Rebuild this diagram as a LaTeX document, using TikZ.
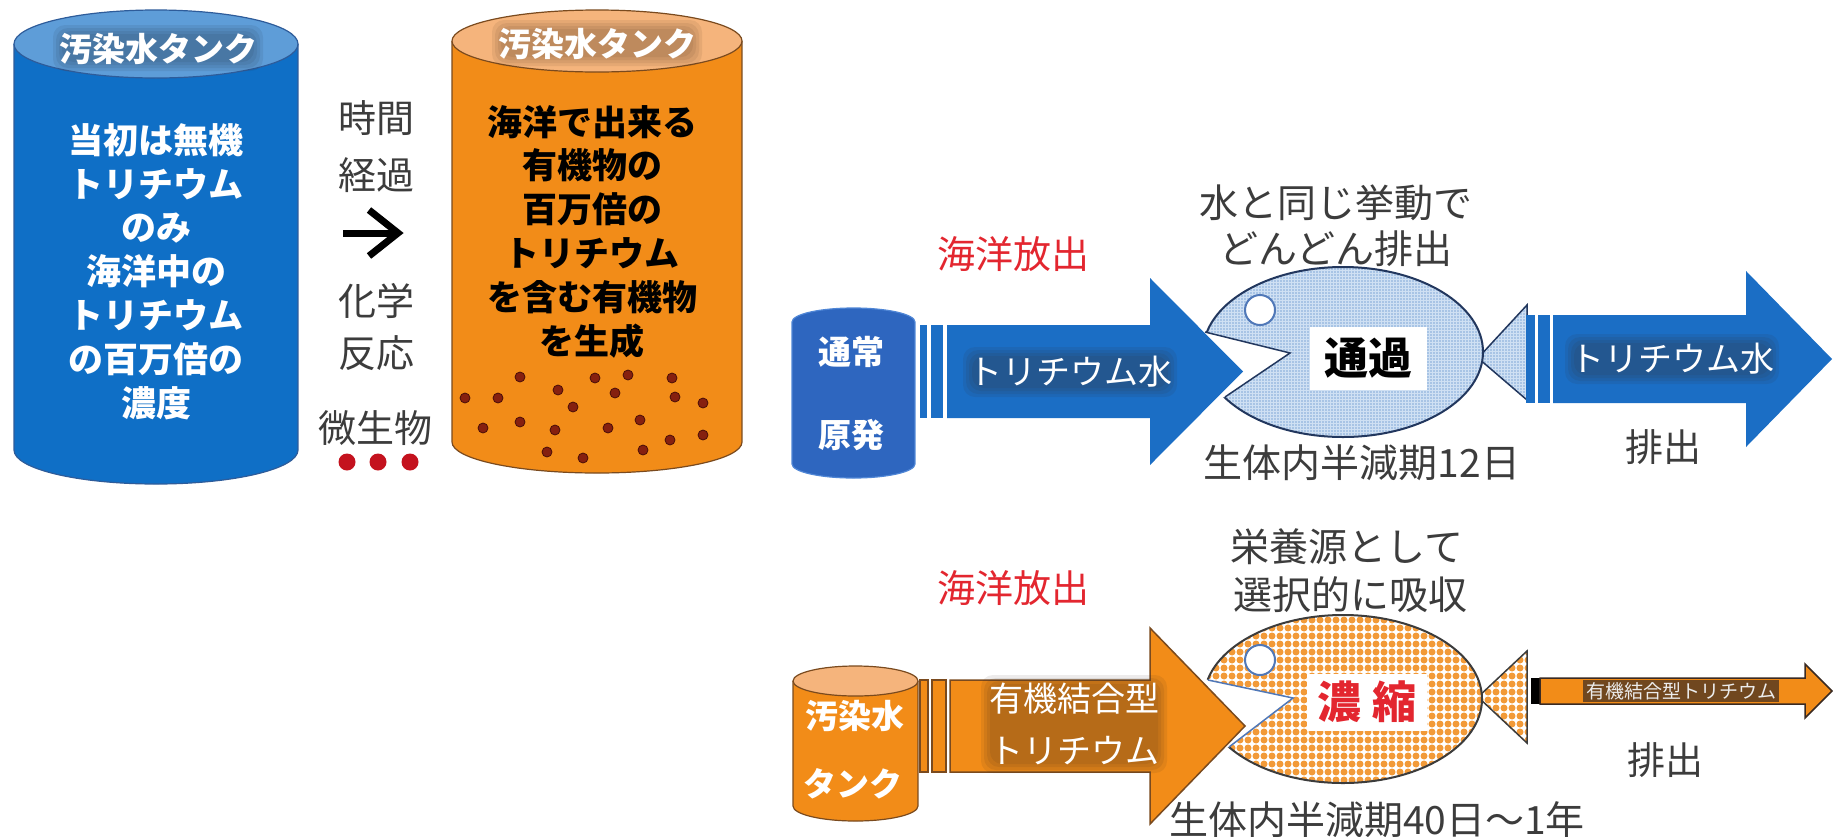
\documentclass[tikz,border=0pt]{standalone}
\usepackage{fontspec}
\newfontfamily\jp{Noto Sans CJK JP}
\usetikzlibrary{patterns.meta}

\definecolor{tankblue}{HTML}{0F6FC6}
\definecolor{tanktopblue}{HTML}{5E9DD8}
\definecolor{tankedge}{HTML}{2E5C9A}
\definecolor{tankorange}{HTML}{F28C18}
\definecolor{tanktoporange}{HTML}{F5B47C}
\definecolor{orangeedge}{HTML}{7A4A1E}
\definecolor{arrowblue}{HTML}{1B6EC5}
\definecolor{canblue}{HTML}{2E66BF}
\definecolor{canedge}{HTML}{4F86D6}
\definecolor{inkgray}{HTML}{3C3C3C}
\definecolor{alertred}{HTML}{E3262F}
\definecolor{dotred}{HTML}{C4121E}
\definecolor{speck}{HTML}{86200F}
\definecolor{speckedge}{HTML}{4A0E08}
\definecolor{fishblue}{HTML}{CFE0F3}
\definecolor{fishspeck}{HTML}{82A9D8}
\definecolor{fishedge}{HTML}{22375E}
\definecolor{fishorange}{HTML}{F29A38}
\definecolor{mouthblue}{HTML}{5078B8}
\definecolor{haloblue}{HTML}{1E2838}
\definecolor{halobrown}{HTML}{4A3020}
\definecolor{halodark}{HTML}{3A2A22}

% texture tiles for the two fish bodies
\tikzdeclarepattern{
  name=finedots,
  type=uncolored,
  bottom left={(-1pt,-1pt)},
  top right={(1pt,1pt)},
  tile size={(3pt,3pt)},
  code={\fill (0pt,0pt) circle (0.8pt);}
}
\tikzdeclarepattern{
  name=bigdots,
  type=uncolored,
  bottom left={(-4pt,-4pt)},
  top right={(4pt,4pt)},
  tile size={(8pt,8pt)},
  code={\fill (0pt,0pt) circle (3.5pt);}
}

% soft dark glow behind white lettering: centre, half width, half height, colour
\newcommand\softband[4]{%
  \foreach \g in {0,3,6,9}
    \fill[#4, fill opacity=0.09, rounded corners=12pt, shift={#1}]
      (-#2-\g,-#3-\g) rectangle (#2+\g,#3+\g);}

\begin{document}
\begin{tikzpicture}[x=1pt, y=-1pt,
  every node/.style={inner sep=0pt, align=center},
  lbl/.style={font=\jp\fontsize{38}{46}\selectfont, text=inkgray},
  caption/.style={font=\jp\fontsize{39}{47}\selectfont, text=inkgray},
  release/.style={font=\jp\fontsize{38}{46}\selectfont, text=alertred},
  toplabel/.style={font=\jp\bfseries\fontsize{33}{40}\selectfont, text=white},
  tanktext/.style={font=\jp\bfseries\fontsize{35}{43.8}\selectfont},
  cantext/.style={font=\jp\bfseries\fontsize{33}{40}\selectfont, text=white},
  arrowtext/.style={font=\jp\fontsize{34}{52}\selectfont, text=white},
  fishbox/.style={fill=white, font=\jp\bfseries\fontsize{44}{50}\selectfont},
  speckdot/.style={fill=speck, draw=speckedge, line width=0.8},
]
\useasboundingbox[fill=white] (0,0) rectangle (1833,836);

% ---------- blue tank ----------
\fill[tankblue] (14,44) rectangle (298,450);
\fill[tankblue] (156,450) ellipse [x radius=142, y radius=34];
\draw[tankedge, line width=1.2] (14,44) -- (14,450)
  arc [start angle=180, end angle=0, x radius=142, y radius=34] -- (298,44);
\filldraw[fill=tanktopblue, draw=tankedge, line width=1.2] (156,44) ellipse [x radius=142, y radius=34];
\softband{(158,48)}{96}{14}{haloblue}
\node[toplabel] (blueTop) at (158,49) {汚染水タンク};
\node[tanktext, text=white] (blueBody) at (156,271.5)
  {当初は無機\\トリチウム\\のみ\\海洋中の\\トリチウム\\の百万倍の\\濃度};

% ---------- middle column ----------
\node[lbl] (t1) at (376,118) {時間};
\node[lbl] (t2) at (376,175) {経過};
\coordinate (chA) at (343,233);
\coordinate (chB) at (398,233);
\draw[line width=7] (chA) -- (chB);
\draw[line width=7, line join=miter] ([shift={(-29,-23)}]chB) -- (chB) -- ([shift={(-29,23)}]chB);
\node[lbl] (t3) at (376,301) {化学};
\node[lbl] (t4) at (376,353) {反応};
\node[lbl] (t5) at (375,428) {微生物};
\foreach \x in {347,378,410} \fill[dotred] (\x,462) circle [radius=8.5];

% ---------- orange tank ----------
\fill[tankorange] (452,41) rectangle (742,442);
\fill[tankorange] (597,442) ellipse [x radius=145, y radius=31];
\draw[orangeedge, line width=1.2] (452,41) -- (452,442)
  arc [start angle=180, end angle=0, x radius=145, y radius=31] -- (742,41);
\filldraw[fill=tanktoporange, draw=orangeedge, line width=1.2] (597,41) ellipse [x radius=145, y radius=31];
\softband{(597,43)}{96}{14}{halobrown}
\node[toplabel] (orangeTop) at (597,44) {汚染水タンク};
\node[tanktext, text=black] (orangeBody) at (592,231.5)
  {海洋で出来る\\有機物の\\百万倍の\\トリチウム\\を含む有機物\\を生成};
\foreach \p in {(520,377),(595,378),(628,375),(672,378),(465,398),(498,398),
  (558,390),(615,393),(675,397),(703,403),(573,407),(520,422),(640,420),
  (483,428),(555,430),(608,428),(670,440),(703,435),(547,452),(643,450),(583,458)}
  \filldraw[speckdot] \p circle [radius=5];

% ---------- upper row: ordinary plant ----------
\node[release] (relA) at (1013,254) {海洋放出};
\node[caption] (behaveA) at (1336,203) {水と同じ挙動で};
\node[caption] (behaveB) at (1336,249) {どんどん排出};

\fill[canblue] (792,322) rectangle (915,464);
\fill[canblue] (853.5,322) ellipse [x radius=61.5, y radius=14];
\fill[canblue] (853.5,464) ellipse [x radius=61.5, y radius=14];
\draw[canedge, line width=1.2] (792,322) -- (792,464)
  arc [start angle=180, end angle=0, x radius=61.5, y radius=14] -- (915,322)
  arc [start angle=0, end angle=-180, x radius=61.5, y radius=14];
\node[cantext] (canA1) at (851,352) {通常};
\node[cantext] (canA2) at (851,435) {原発};

% fish that lets tritiated water pass
\fill[fishblue] (1478,358) -- (1527,305) -- (1527,400) -- cycle;
\fill[pattern=finedots, pattern color=fishspeck] (1478,358) -- (1527,305) -- (1527,400) -- cycle;
\draw[fishedge, line width=1.5] (1478,358) -- (1527,305) -- (1527,400) -- cycle;
\fill[fishblue] (1343,352) ellipse [x radius=140, y radius=85];
\fill[pattern=finedots, pattern color=fishspeck] (1343,352) ellipse [x radius=140, y radius=85];
\draw[fishedge, line width=2] (1343,352) ellipse [x radius=140, y radius=85];
\fill[white] (1205,332) -- (1290,353) -- (1225,397) -- (1198,402) -- (1195,328) -- cycle;
\draw[fishedge, line width=1.5, line join=miter] (1205,332) -- (1290,353) -- (1225,397);
\filldraw[fill=white, draw=mouthblue, line width=2] (1260,310) circle [radius=15];
\node[fishbox, minimum width=117pt, minimum height=63pt, text=black] (passFish) at (1368,358) {通過};
\node[caption] (halfA) at (1362,463) {生体内半減期12日};

% blue arrow into the fish
\fill[arrowblue] (920,325) rectangle (927,418);
\fill[arrowblue] (931,325) rectangle (943,418);
\fill[arrowblue] (947,325) -- (1150,325) -- (1150,278) -- (1243,371.5)
  -- (1150,465) -- (1150,418) -- (947,418) -- cycle;
\softband{(1070,372)}{98}{16}{halodark}
\node[arrowtext] (inA) at (1070,372) {トリチウム水};

% blue arrow out of the fish
\fill[arrowblue] (1526,315) rectangle (1535,403);
\fill[arrowblue] (1538,315) rectangle (1550,403);
\fill[arrowblue] (1553,315) -- (1746,315) -- (1746,271) -- (1832,359)
  -- (1746,447) -- (1746,403) -- (1553,403) -- cycle;
\softband{(1672,359)}{98}{16}{halodark}
\node[arrowtext] (outA) at (1672,359) {トリチウム水};
\node[lbl] (exA) at (1663,447) {排出};

% ---------- lower row: contaminated-water tank ----------
\node[release] (relB) at (1013,588) {海洋放出};
\node[caption] (nutriA) at (1347,547) {栄養源として};
\node[caption] (nutriB) at (1350,595) {選択的に吸収};

\fill[tankorange] (793,681) rectangle (918,806);
\fill[tankorange] (855.5,806) ellipse [x radius=62.5, y radius=15];
\draw[orangeedge, line width=1.2] (793,681) -- (793,806)
  arc [start angle=180, end angle=0, x radius=62.5, y radius=15] -- (918,681);
\filldraw[fill=tanktoporange, draw=orangeedge, line width=1.2] (855.5,681) ellipse [x radius=62.5, y radius=15];
\node[cantext] (canB1) at (855,716) {汚染水};
\node[cantext] (canB2) at (853,784) {タンク};

% fish that concentrates organically bound tritium
\fill[white] (1478,697) -- (1527,651) -- (1527,743) -- cycle;
\fill[pattern=bigdots, pattern color=fishorange] (1478,697) -- (1527,651) -- (1527,743) -- cycle;
\draw[inkgray, line width=1.5] (1478,697) -- (1527,651) -- (1527,743) -- cycle;
\fill[white] (1343,699) ellipse [x radius=139, y radius=84];
\fill[pattern=bigdots, pattern color=fishorange] (1343,699) ellipse [x radius=139, y radius=84];
\draw[inkgray, line width=2] (1343,699) ellipse [x radius=139, y radius=84];
\fill[white] (1208,680) -- (1293,698) -- (1229,747) -- (1200,752) -- (1198,676) -- cycle;
\draw[mouthblue, line width=1.5, line join=miter] (1208,680) -- (1293,698) -- (1229,747);
\filldraw[fill=white, draw=mouthblue, line width=2] (1260,660) circle [radius=15];
\node[fishbox, minimum width=120pt, minimum height=57pt, text=alertred] (concFish) at (1367,702) {濃\hspace{12pt}縮};
\node[caption] (halfB) at (1377,820) {生体内半減期40日～1年};

% orange arrow into the fish
\filldraw[fill=tankorange, draw=orangeedge, line width=1.5] (920,680) rectangle (928,772);
\filldraw[fill=tankorange, draw=orangeedge, line width=1.5] (932,680) rectangle (946,772);
\filldraw[fill=tankorange, draw=orangeedge, line width=1.5, line join=miter]
  (950,680) -- (1150,680) -- (1150,628) -- (1245,726)
  -- (1150,824) -- (1150,772) -- (950,772) -- cycle;
\softband{(1074,724)}{84}{40}{halodark}
\node[arrowtext] (inB) at (1074,724) {有機結合型\\トリチウム};

% thin orange arrow out of the fish
\fill[black] (1531,678) rectangle (1540,704);
\filldraw[fill=tankorange, draw=halodark, line width=1.5, line join=miter]
  (1540,678) -- (1805,678) -- (1805,664) -- (1832,691)
  -- (1805,718) -- (1805,704) -- (1540,704) -- cycle;
\node[fill=halodark, fill opacity=0.7, text opacity=1, text=white!85!gray,
  inner xsep=3pt, inner ysep=2pt, font=\jp\fontsize{19}{20}\selectfont]
  (outB) at (1681,691) {有機結合型トリチウム};
\node[lbl] (exB) at (1665,760) {排出};
\end{tikzpicture}
\end{document}
